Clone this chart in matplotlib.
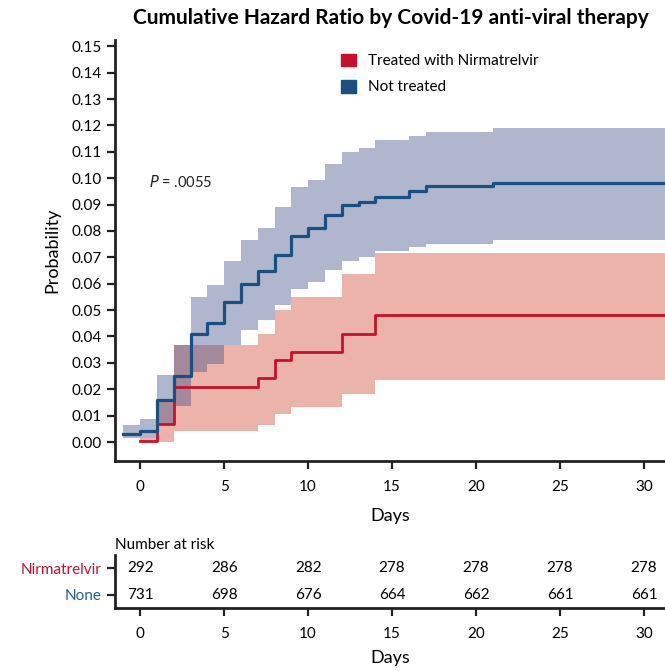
import numpy as np
import matplotlib
matplotlib.use('Agg')
import matplotlib.pyplot as plt
from matplotlib.patches import Patch

plt.rcParams['font.family'] = ['Lato', 'DejaVu Sans']

# ── Data ─────────────────────────────────────────────────────
# not treated: step times, cumulative hazard and 95% band
days_none = [-1, 0, 1, 2, 3, 4, 5, 6, 7, 8, 9, 10, 11, 12, 13, 14, 16, 17, 21]
haz_none = [0.003, 0.004, 0.016, 0.025, 0.041, 0.045, 0.053, 0.060, 0.065, 0.071,
            0.078, 0.081, 0.086, 0.090, 0.091, 0.093, 0.095, 0.097, 0.098]
upper_none = [0.0064, 0.0086, 0.0253, 0.0366, 0.0548, 0.0596, 0.0687, 0.0767, 0.0812,
              0.0891, 0.0966, 0.0994, 0.1054, 0.110, 0.1114, 0.1146, 0.1161, 0.1177, 0.1192]
lower_none = [0.0014, 0.0015, 0.007, 0.0136, 0.0265, 0.0297, 0.0366, 0.0425, 0.0463,
              0.0521, 0.058, 0.0605, 0.0652, 0.0687, 0.070, 0.0725, 0.074, 0.075, 0.0765]

# treated with nirmatrelvir
days_nirm = [0, 1, 2, 7, 8, 9, 12, 14]
haz_nirm = [0.0005, 0.0068, 0.021, 0.0243, 0.031, 0.0343, 0.041, 0.0482]
upper_nirm = [0.0014, 0.015, 0.0366, 0.041, 0.0501, 0.0548, 0.0637, 0.0718]
lower_nirm = [0.0, 0.0, 0.0043, 0.0064, 0.0108, 0.0133, 0.0181, 0.0234]

# follow-up end (curves carried to here)
end_day = 31.5

# number at risk table
risk_days = [0, 5, 10, 15, 20, 25, 30]
risk_nirm = [292, 286, 282, 278, 278, 278, 278]
risk_none = [731, 698, 676, 664, 662, 661, 661]

# ── Colours ──────────────────────────────────────────────────
red_line = '#c8102e'
blue_line = '#1a4f82'
red_fill = '#cd412b'
blue_fill = '#394a85'


def extend(t, v):
    # carry the last value out to the end of follow-up
    return list(t) + [end_day], list(v) + [v[-1]]


fig = plt.figure(figsize=(6.65, 6.71), dpi=100)

# ── Main hazard plot ─────────────────────────────────────────
ax = fig.add_axes([115 / 665, 1 - 461 / 671, 1 - 115 / 665, (461 - 40) / 671])

t, lo = extend(days_nirm, lower_nirm)
_, hi = extend(days_nirm, upper_nirm)
ax.fill_between(t, lo, hi, step='post', color=red_fill, alpha=0.4, lw=0)

t, lo = extend(days_none, lower_none)
_, hi = extend(days_none, upper_none)
ax.fill_between(t, lo, hi, step='post', color=blue_fill, alpha=0.4, lw=0)

t, v = extend(days_nirm, haz_nirm)
ax.step(t, v, where='post', color=red_line, lw=2.0)
t, v = extend(days_none, haz_none)
ax.step(t, v, where='post', color=blue_line, lw=2.3)

ax.set_xlim(-1.5, 31.25)
ax.set_ylim(-0.0072, 0.1524)
ax.set_yticks(np.arange(0, 0.151, 0.01))
ax.set_yticklabels([f'{v:.2f}' for v in np.arange(0, 0.151, 0.01)])
ax.set_xticks(risk_days)
ax.tick_params(axis='both', direction='out', length=6, width=1.6, labelsize=11,
               color='#222222')
ax.tick_params(axis='x', pad=8)
for s in ['top', 'right']:
    ax.spines[s].set_visible(False)
for s in ['left', 'bottom']:
    ax.spines[s].set_linewidth(2)
    ax.spines[s].set_color('#222222')
ax.set_ylabel('Probability', fontsize=13, labelpad=8)
ax.set_xlabel('Days', fontsize=13, labelpad=10)

ax.text(0.5, 0.0965, r'$P$ = .0055', fontsize=10.5, color='#222222')

handles = [Patch(color=red_line, label='Treated with Nirmatrelvir'),
           Patch(color=blue_line, label='Not treated')]
ax.legend(handles=handles, loc='upper left', bbox_to_anchor=(0.385, 1.0),
          frameon=False, fontsize=11, handlelength=1.0, handleheight=0.9,
          labelspacing=0.75, handletextpad=0.8)

fig.suptitle('Cumulative Hazard Ratio by Covid-19 anti-viral therapy',
             x=0.588, y=0.988, fontsize=15, fontweight='bold')

# ── Number at risk table ─────────────────────────────────────
ax_r = fig.add_axes([115 / 665, 1 - 608 / 671, 1 - 115 / 665, 53 / 671])
ax_r.set_xlim(-1.5, 31.25)
ax_r.set_ylim(-0.5, 1.5)
for d, a, b in zip(risk_days, risk_nirm, risk_none):
    ax_r.text(d, 1, str(a), ha='center', va='center', fontsize=11)
    ax_r.text(d, 0, str(b), ha='center', va='center', fontsize=11)
ax_r.set_yticks([1, 0])
ax_r.set_yticklabels(['Nirmatrelvir', 'None'], fontsize=11)
ax_r.get_yticklabels()[0].set_color(red_line)
ax_r.get_yticklabels()[1].set_color('#1f5f99')
ax_r.set_xticks(risk_days)
ax_r.tick_params(axis='both', direction='out', length=6, width=1.6, labelsize=11,
                 color='#222222')
ax_r.tick_params(axis='x', pad=8)
for s in ['top', 'right']:
    ax_r.spines[s].set_visible(False)
for s in ['left', 'bottom']:
    ax_r.spines[s].set_linewidth(2)
    ax_r.spines[s].set_color('#222222')
ax_r.set_xlabel('Days', fontsize=13, labelpad=6)
fig.text(115 / 665, 1 - 545 / 671, 'Number at risk', fontsize=11, va='center')

fig.savefig('out.png', dpi=100)
